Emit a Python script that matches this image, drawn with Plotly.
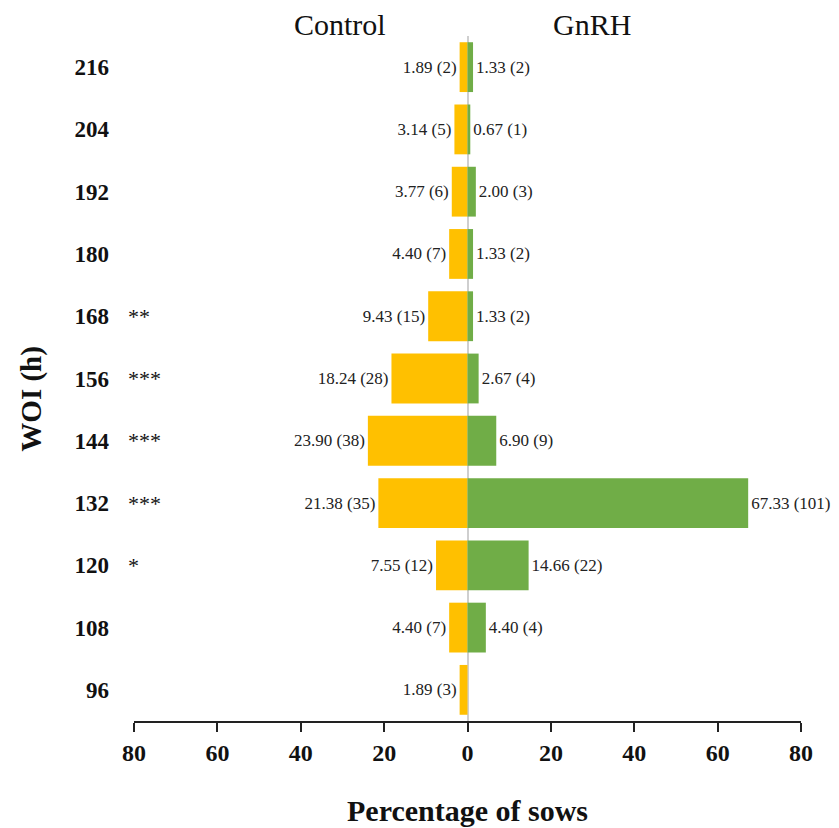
import plotly.graph_objects as go

categories = ["96", "108", "120", "132", "144", "156", "168", "180", "192", "204", "216"]
control_pct = [1.89, 4.40, 7.55, 21.38, 23.90, 18.24, 9.43, 4.40, 3.77, 3.14, 1.89]
control_n = [3, 7, 12, 35, 38, 28, 15, 7, 6, 5, 2]
gnrh_pct = [None, 4.40, 14.66, 67.33, 6.90, 2.67, 1.33, 1.33, 2.00, 0.67, 1.33]
gnrh_n = [None, 4, 22, 101, 9, 4, 2, 2, 3, 1, 2]
stars = ["", "", "*", "***", "***", "***", "**", "", "", "", ""]
tick_vals = [-80, -60, -40, -20, 0, 20, 40, 60, 80]
tick_text = ["80", "60", "40", "20", "0", "20", "40", "60", "80"]

SERIF = "Liberation Serif"
OFF = 8  # page body margin

control_text = [f"{p:.2f} ({n})" for p, n in zip(control_pct, control_n)]
gnrh_text = [f"{p:.2f} ({n})" if p is not None else "" for p, n in zip(gnrh_pct, gnrh_n)]

fig = go.Figure()
fig.add_trace(go.Bar(
    y=categories, x=[-v for v in control_pct], orientation="h",
    marker=dict(color="#FFC000", line=dict(width=0)),
    text=control_text, textposition="outside",
    textfont=dict(family=SERIF, size=17, color="#222"),
    cliponaxis=False, name="Control",
))
fig.add_trace(go.Bar(
    y=categories, x=gnrh_pct, orientation="h",
    marker=dict(color="#70AD47", line=dict(width=0)),
    text=gnrh_text, textposition="outside",
    textfont=dict(family=SERIF, size=17, color="#222"),
    cliponaxis=False, name="GnRH",
))

annotations = []
for i, s in enumerate(stars):
    if s:
        annotations.append(dict(x=-0.012, xref="paper", y=i, yref="y", text=s,
                                showarrow=False, xanchor="left", yanchor="middle",
                                font=dict(family=SERIF, size=22, color="#111")))
annotations += [
    dict(x=(340 - 134) / 667, xref="paper", y=1.0, yref="paper", yshift=12, text="Control",
         showarrow=False, xanchor="center", yanchor="middle",
         font=dict(family=SERIF, size=30, color="#111")),
    dict(x=(592 - 134) / 667, xref="paper", y=1.0, yref="paper", yshift=12, text="GnRH",
         showarrow=False, xanchor="center", yanchor="middle",
         font=dict(family=SERIF, size=30, color="#111")),
    dict(x=-0.155, xref="paper", y=0.47, yref="paper", text="<b>WOI (h)</b>", textangle=-90,
         showarrow=False, xanchor="center", yanchor="middle",
         font=dict(family=SERIF, size=29, color="#111")),
    dict(x=0.5, xref="paper", y=0, yref="paper", yshift=-89, text="<b>Percentage of sows</b>",
         showarrow=False, xanchor="center", yanchor="middle",
         font=dict(family=SERIF, size=30, color="#111")),
]

fig.update_layout(
    width=839 - OFF, height=828 - OFF,
    margin=dict(l=134 - OFF, r=38, t=36 - OFF, b=107, autoexpand=False),
    plot_bgcolor="white", paper_bgcolor="white",
    barmode="relative", bargap=0.2, showlegend=False,
    annotations=annotations,
    font=dict(family=SERIF),
)
fig.update_xaxes(
    range=[-80, 80], tickvals=tick_vals, ticktext=tick_text,
    showgrid=False, showline=True, linecolor="#222", linewidth=1.5,
    ticks="outside", ticklen=9, tickwidth=1.5, tickcolor="#222",
    tickfont=dict(family=SERIF, size=24, color="#111", weight="bold"),
    zeroline=True, zerolinecolor="#cfcfcf", zerolinewidth=1.5,
    fixedrange=True, automargin=False,
)
fig.update_yaxes(
    type="category", categoryorder="array", categoryarray=categories,
    range=[-0.5, 10.5], dtick=1,
    showgrid=False, showline=False, ticks="",
    ticklabelstandoff=24,
    tickfont=dict(family=SERIF, size=23, color="#111", weight="bold"),
    fixedrange=True, automargin=False,
)

fig.write_html("out.html")
